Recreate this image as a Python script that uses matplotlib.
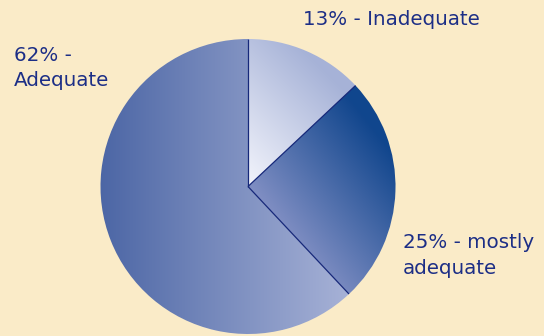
import matplotlib.pyplot as plt
import numpy as np
from matplotlib.patches import Wedge

# survey results, in percent
labels = ['13% - Inadequate', '25% - mostly\nadequate', '62% -\nAdequate']
shares = [13, 25, 62]

W, H = 544, 336
BG = '#faebc8'
TEXT = '#1c2e86'
EDGE = '#16287a'

center = (248, 186.5)
radius = 147.5

# left/baseline anchor for the first line of each label
label_pos = [(303, 25), (403, 248), (14, 61)]
line_step = 25.5

# linear fills per slice: start point, end point, start colour, end colour
fills = [
    ((251, 184), (345, 90), (241, 243, 251), (166, 178, 215)),
    ((251, 184), (353, 103), (126, 141, 194), (17, 70, 141)),
    ((100, 0), (365, 0), (76, 102, 165), (173, 183, 218)),
]

xx, yy = np.meshgrid(np.arange(W) + 0.5, np.arange(H) + 0.5)


def gradient(p0, p1, c0, c1):
    d = np.subtract(p1, p0).astype(float)
    t = ((xx - p0[0]) * d[0] + (yy - p0[1]) * d[1]) / (d @ d)
    t = np.clip(t, 0, 1)[..., None]
    c0 = np.array(c0) / 255.0
    c1 = np.array(c1) / 255.0
    return c0 + t * (c1 - c0)


fig = plt.figure(figsize=(W / 100, H / 100), dpi=100)
fig.patch.set_facecolor(BG)
ax = fig.add_axes([0, 0, 1, 1])
ax.set_xlim(0, W)
ax.set_ylim(H, 0)
ax.axis('off')

# y runs downward, so increasing angle goes clockwise on screen
bounds = -90 + 360 * np.concatenate([[0], np.cumsum(shares)]) / sum(shares)

for i, share in enumerate(shares):
    w = Wedge(center, radius, bounds[i], bounds[i + 1],
              facecolor='none', edgecolor='none')
    ax.add_patch(w)
    img = ax.imshow(gradient(*fills[i]), extent=(0, W, H, 0),
                    origin='upper', interpolation='bilinear', zorder=1)
    img.set_clip_path(w)

# thin dark rules along the slice boundaries
for ang in bounds[:-1]:
    a = np.deg2rad(ang)
    ax.plot([center[0], center[0] + radius * np.cos(a)],
            [center[1], center[1] + radius * np.sin(a)],
            color=EDGE, lw=0.9, zorder=3, solid_capstyle='butt')

ax.set_aspect('auto')

for text, (x, y) in zip(labels, label_pos):
    for k, line in enumerate(text.split('\n')):
        ax.text(x, y + k * line_step, line, color=TEXT, fontsize=14.3,
                family='DejaVu Sans', ha='left', va='baseline')

fig.savefig('out.png', dpi=100, facecolor=BG)
